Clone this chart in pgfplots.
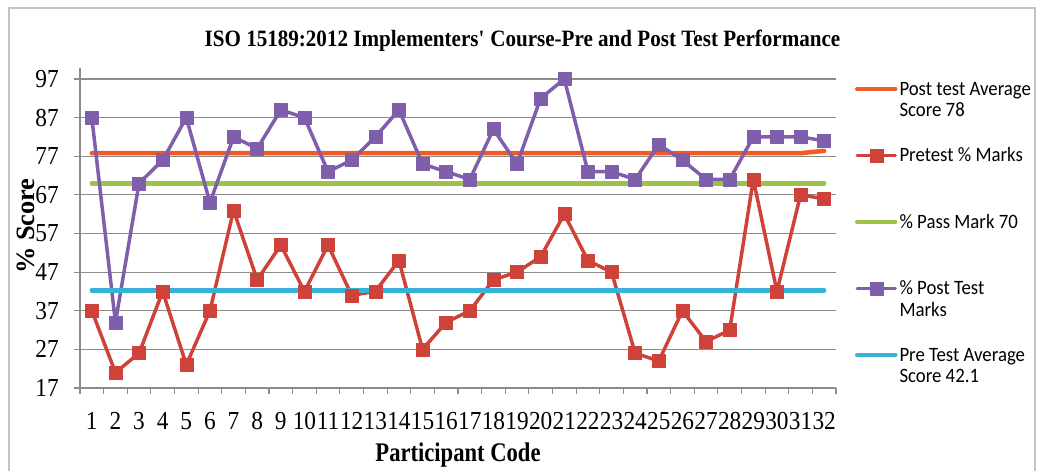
\documentclass[border=0pt]{standalone}
\usepackage{pgfplots}
\pgfplotsset{compat=1.18}
\usepackage{pgfplotstable}
\usepackage{fontspec}
\setmainfont{Liberation Serif}[FakeStretch=0.9]
\newfontfamily\timesn{Liberation Serif}
\newfontfamily\timesx{Liberation Serif}[FakeStretch=0.84]
\newfontfamily\calib{Carlito}[FakeStretch=0.92]
\definecolor{cOrange}{RGB}{241,90,36}
\definecolor{cRed}{RGB}{206,66,58}
\definecolor{cGreen}{RGB}{157,194,74}
\definecolor{cPurple}{RGB}{127,95,172}
\definecolor{cCyan}{RGB}{53,180,216}
\definecolor{cGrid}{RGB}{140,140,140}
\definecolor{cFrame}{RGB}{195,195,195}

\pgfplotstableread{
x pre post pavg pass prav
1 37 87 77.8 70 42.3
2 21 34 77.8 70 42.3
3 26 70 77.8 70 42.3
4 42 76 77.8 70 42.3
5 23 87 77.8 70 42.3
6 37 65 77.8 70 42.3
7 63 82 77.8 70 42.3
8 45 79 77.8 70 42.3
9 54 89 77.8 70 42.3
10 42 87 77.8 70 42.3
11 54 73 77.8 70 42.3
12 41 76 77.8 70 42.3
13 42 82 77.8 70 42.3
14 50 89 77.8 70 42.3
15 27 75 77.8 70 42.3
16 34 73 77.8 70 42.3
17 37 71 77.8 70 42.3
18 45 84 77.8 70 42.3
19 47 75 77.8 70 42.3
20 51 92 77.8 70 42.3
21 62 97 77.8 70 42.3
22 50 73 77.8 70 42.3
23 47 73 77.8 70 42.3
24 26 71 77.8 70 42.3
25 24 80 77.8 70 42.3
26 37 76 77.8 70 42.3
27 29 71 77.8 70 42.3
28 32 71 77.8 70 42.3
29 71 82 77.8 70 42.3
30 42 82 77.8 70 42.3
31 67 82 77.8 70 42.3
32 66 81 78.4 70 42.3
}\data

\begin{document}
\begin{tikzpicture}
\useasboundingbox (-80bp,-83bp) rectangle (957bp,388bp);
\draw[cFrame, line width=1.6bp] (-71bp,-95bp) rectangle (955bp,380bp);
\begin{axis}[
  at={(0,0)}, anchor=south west,
  scale only axis, width=756bp, height=320bp,
  xmin=0.5, xmax=32.5, ymin=17, ymax=99.85,
  axis lines*=left,
  axis line style={cGrid, line width=1.2bp},
  xtick={0.5,1.5,...,32.5},
  xticklabels={1,2,3,4,5,6,7,8,9,10,11,12,13,14,15,16,17,18,19,20,21,22,23,24,25,26,27,28,29,30,31,32,{}},
  xticklabel style={xshift=11.81bp, anchor=north, inner sep=0pt, yshift=-18bp},
  ytick={17,27,...,97},
  yticklabel style={anchor=east, inner sep=0pt, xshift=-15bp},
  /pgf/number format/assume math mode=true,
  ticklabel style={font=\fontsize{26}{26}\selectfont},
  ymajorgrids,
  grid style={cGrid, line width=1.2bp},
  tick align=outside,
  major tick length=6bp,
  tick style={cGrid, line width=1.2bp},
  title={ISO 15189:2012 Implementers\textquotesingle\ Course-Pre and Post Test Performance},
  title style={font=\fontsize{23.5}{23.5}\selectfont\bfseries, at={(axis description cs:0.5853,1.0490)}, anchor=base, inner sep=0pt},
  xlabel={Participant Code},
  xlabel style={font=\timesx\fontsize{27}{27}\selectfont\bfseries, at={(axis description cs:0.5,-0.2303)}, anchor=base, inner sep=0pt},
  ylabel={\% Score},
  ylabel style={font=\timesn\fontsize{26.5}{26.5}\selectfont\bfseries, at={(axis description cs:-0.0714,0.506)}, anchor=center, rotate=0, inner sep=0pt},
  legend cell align=left,
  legend style={draw=none, fill=none, inner sep=0pt, outer sep=0pt,
    at={(axis description cs:1.02513,0.9656)}, anchor=north west,
    font=\calib\fontsize{20.5}{22}\selectfont,
    column sep=2bp, row sep=0pt,
    nodes={inner sep=0pt, outer sep=0pt, text height=16bp, text depth=50.5bp}},
  legend image code/.code={\draw[mark repeat=2,mark phase=2,#1] plot coordinates {(0bp,23.25bp) (19bp,23.25bp) (38bp,23.25bp)};},
  every axis plot/.append style={line cap=round, line join=round},
]
\addplot[cOrange, line width=4.5bp] table[x=x, y=pavg] {\data};
\addlegendentry{\parbox[t]{150bp}{Post test Average\newline Score 78}}
\addplot[cRed, line width=3.5bp, mark=square*, mark size=6.5bp, mark options={solid, line width=0.5bp, fill=cRed}] table[x=x, y=pre] {\data};
\addlegendentry{Pretest \% Marks}
\addplot[cGreen, line width=4.5bp] table[x=x, y=pass] {\data};
\addlegendentry{\% Pass Mark 70}
\addplot[cPurple, line width=3.5bp, mark=square*, mark size=6.5bp, mark options={solid, line width=0.5bp, fill=cPurple}] table[x=x, y=post] {\data};
\addlegendentry{\parbox[t]{150bp}{\% Post Test\newline Marks}}
\addplot[cCyan, line width=4.5bp] table[x=x, y=prav] {\data};
\addlegendentry{\parbox[t]{150bp}{Pre Test Average\newline Score 42.1}}
\end{axis}
\end{tikzpicture}
\end{document}
